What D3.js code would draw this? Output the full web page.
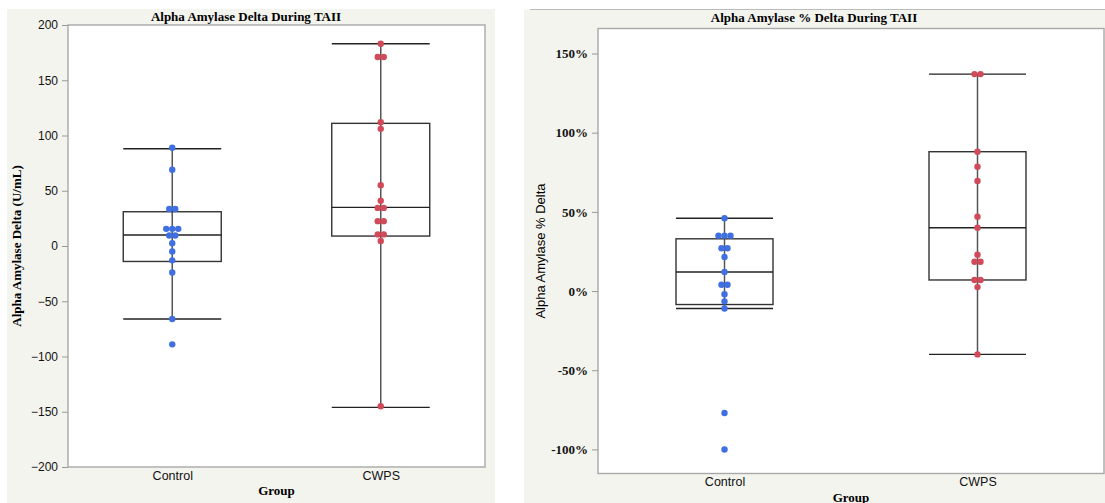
<!DOCTYPE html>
<html>
<head>
<meta charset="utf-8">
<script src="https://cdn.jsdelivr.net/npm/d3@7"></script>
<style>
  body { margin: 0; background: #fff; }
  svg { display: block; }
</style>
</head>
<body>
<svg id="chart" width="1105" height="503"></svg>
<script>
'use strict';

const groups = ['Control', 'CWPS'];

// left chart: absolute delta (U/mL)
const ctrlDelta = [89, 69, 33.5, 33.5, 15.5, 15.5, 15.5, 9.5, 9.5, 2.5, -5, -13, -24, -66, -89];
const cwpsDelta = [183, 171, 171, 112, 106, 55, 41, 34.5, 34.5, 22.5, 22.5, 10.5, 10.5, 4.5, -145];
// box stats: [lowWhisker, q1, median, q3, highWhisker]
const ctrlDeltaBox = [-66, -14, 10, 31, 88];
const cwpsDeltaBox = [-146, 9, 35, 111, 183];
const deltaTicks = [-200, -150, -100, -50, 0, 50, 100, 150, 200];

// right chart: percent delta
const ctrlPct = [46, 35, 35, 35, 27, 27, 21.5, 12, 4, 4, -2, -6.5, -11, -77, -100];
const cwpsPct = [137, 137, 88, 78.5, 69.5, 47, 40, 23, 18.5, 18.5, 7, 7, 2.5, -40];
const ctrlPctBox = [-11, -8.5, 12, 33, 46];
const cwpsPctBox = [-40, 7, 40, 88, 137];
const pctTicks = [-100, -50, 0, 50, 100, 150];

const colors = { Control: '#3f6fe0', CWPS: '#d04a5a' };
const serif = '"Liberation Serif", "Times New Roman", serif';
const sans = '"Liberation Sans", Arial, sans-serif';

const svg = d3.select('#chart');

function drawPanel(cfg) {
  const g = svg.append('g');

  g.append('rect')
    .attr('x', cfg.bg[0]).attr('y', cfg.bg[1])
    .attr('width', cfg.bg[2]).attr('height', cfg.bg[3])
    .attr('fill', '#f4f4ef');

  if (cfg.topLine) {
    g.append('line')
      .attr('x1', cfg.topLine[0]).attr('x2', cfg.topLine[1])
      .attr('y1', cfg.bg[1]).attr('y2', cfg.bg[1])
      .attr('stroke', '#bbb').attr('stroke-width', 1.2);
  }

  const x = d3.scalePoint()
    .domain(groups)
    .range([cfg.left, cfg.right])
    .padding(0.5);

  const y = d3.scaleLinear()
    .domain(cfg.domain)
    .range([cfg.bottom, cfg.top]);

  g.append('rect')
    .attr('x', cfg.left).attr('y', cfg.top)
    .attr('width', cfg.right - cfg.left).attr('height', cfg.bottom - cfg.top)
    .attr('fill', '#fff')
    .attr('stroke', '#a8a8a8').attr('stroke-width', 1.4);

  // y axis
  const yAxis = g.append('g')
    .attr('transform', `translate(${cfg.left},0)`)
    .call(d3.axisLeft(y).tickValues(cfg.ticks).tickSize(6).tickPadding(4).tickFormat(cfg.fmt));
  yAxis.select('.domain').remove();
  yAxis.selectAll('.tick line').attr('stroke', '#999');
  yAxis.selectAll('.tick text')
    .attr('fill', '#111')
    .style('font-family', cfg.tickFont)
    .style('font-weight', cfg.tickWeight)
    .style('font-size', cfg.tickSize);

  // x axis
  const xAxis = g.append('g')
    .attr('transform', `translate(0,${cfg.bottom})`)
    .call(d3.axisBottom(x).tickSize(0).tickPadding(4));
  xAxis.select('.domain').remove();
  xAxis.selectAll('.tick text')
    .attr('fill', '#111')
    .style('font-family', sans)
    .style('font-size', '12.5px');

  // boxes
  const bw = cfg.boxWidth;
  cfg.boxes.forEach((b, i) => {
    const cx = x(groups[i]);
    g.append('line')
      .attr('x1', cx).attr('x2', cx)
      .attr('y1', y(b[4])).attr('y2', y(b[0]))
      .attr('stroke', '#555').attr('stroke-width', 1.5);
    g.append('rect')
      .attr('x', cx - bw / 2).attr('y', y(b[3]))
      .attr('width', bw).attr('height', y(b[1]) - y(b[3]))
      .attr('fill', 'none')
      .attr('stroke', '#333').attr('stroke-width', 1.4);
    [b[0], b[2], b[4]].forEach(v => {
      g.append('line')
        .attr('x1', cx - bw / 2).attr('x2', cx + bw / 2)
        .attr('y1', y(v)).attr('y2', y(v))
        .attr('stroke', '#222').attr('stroke-width', 1.4);
    });
  });

  // points, equal values spread side by side
  cfg.points.forEach((vals, i) => {
    const grp = groups[i];
    const counts = d3.rollup(vals, v => v.length, d => d);
    const seen = new Map();
    const pts = vals.map(v => {
      const k = seen.get(v) || 0;
      seen.set(v, k + 1);
      const n = counts.get(v);
      return { v, dx: (k - (n - 1) / 2) * 6 };
    });
    g.selectAll(null)
      .data(pts)
      .enter()
      .append('circle')
      .attr('cx', d => x(grp) + d.dx)
      .attr('cy', d => y(d.v))
      .attr('r', 3.2)
      .attr('fill', colors[grp]);
  });

  g.append('text')
    .attr('x', cfg.titleX).attr('y', cfg.titleY)
    .attr('text-anchor', 'middle')
    .style('font-family', serif).style('font-weight', 'bold').style('font-size', '13px')
    .text(cfg.title);

  g.append('text')
    .attr('transform', `translate(${cfg.yLabelX},${(cfg.top + cfg.bottom) / 2}) rotate(-90)`)
    .attr('text-anchor', 'middle')
    .style('font-family', cfg.yLabelFont)
    .style('font-weight', cfg.yLabelWeight)
    .style('font-size', '13px')
    .text(cfg.yLabel);

  g.append('text')
    .attr('x', (cfg.left + cfg.right) / 2).attr('y', cfg.bottom + 28)
    .attr('text-anchor', 'middle')
    .style('font-family', serif).style('font-weight', 'bold').style('font-size', '13px')
    .text('Group');
}

drawPanel({
  bg: [7, 9, 488, 494],
  left: 68, right: 485, top: 25, bottom: 467,
  domain: [-200, 200],
  ticks: deltaTicks,
  fmt: d3.format('d'),
  tickFont: sans, tickWeight: 'normal', tickSize: '12px',
  boxWidth: 98,
  boxes: [ctrlDeltaBox, cwpsDeltaBox],
  points: [ctrlDelta, cwpsDelta],
  title: 'Alpha Amylase Delta During TAII',
  titleX: 246, titleY: 21,
  yLabel: 'Alpha Amylase Delta (U/mL)',
  yLabelX: 21, yLabelFont: serif, yLabelWeight: 'bold'
});

drawPanel({
  bg: [524, 9.5, 581, 494],
  topLine: [530, 1105],
  left: 598, right: 1104, top: 28.5, bottom: 473.5,
  domain: [-115.2, 165.8],
  ticks: pctTicks,
  fmt: d => d + '%',
  tickFont: serif, tickWeight: 'bold', tickSize: '13px',
  boxWidth: 97,
  boxes: [ctrlPctBox, cwpsPctBox],
  points: [ctrlPct, cwpsPct],
  title: 'Alpha Amylase % Delta During TAII',
  titleX: 814, titleY: 22,
  yLabel: 'Alpha Amylase % Delta',
  yLabelX: 545, yLabelFont: sans, yLabelWeight: 'normal'
});
</script>
</body>
</html>
